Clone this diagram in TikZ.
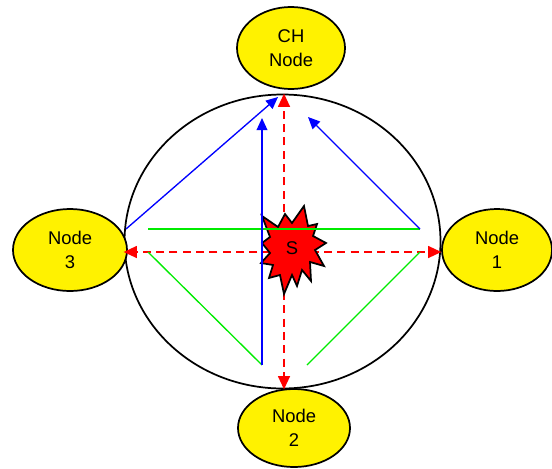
\documentclass[tikz,border=0pt]{standalone}
\usepackage{fontspec}
\setmainfont{Liberation Sans}
\usetikzlibrary{shapes.geometric,arrows.meta}
\definecolor{brightgreen}{RGB}{0,235,0}
\begin{document}
\begin{tikzpicture}[x=0.75pt,y=-0.75pt,
  nodeell/.style={ellipse, draw=black, line width=1.3pt, fill=yellow, inner sep=0pt, align=center,
    font=\fontsize{13.8}{18}\selectfont},
  ringstyle/.style={ellipse, draw=black, line width=1.3pt, inner sep=0pt},
  redarrow/.style={draw=red, line width=1.2pt, dash pattern=on 6pt off 4pt, -{Triangle[length=10pt,width=9pt]}},
  bluearrow/.style={draw=blue, line width=1pt, -{Triangle[length=9pt,width=8pt]}},
  greenline/.style={draw=brightgreen, line width=1pt},
  starstyle/.style={draw=black, fill=red, line width=1.3pt, line join=miter}
]
\useasboundingbox (0,0) rectangle (552,468);

% ring
\node[ringstyle, minimum width=237pt, minimum height=220.5pt] (ring) at (282.5,241.5) {};

% nodes
\node[nodeell, minimum width=81pt, minimum height=61.5pt] (ch) at (291,48) {CH\\Node};
\node[nodeell, minimum width=85.5pt, minimum height=61.5pt] (n3) at (70,250) {Node\\3};
\node[nodeell, minimum width=82.5pt, minimum height=61.5pt] (n1) at (497,250) {Node\\1};
\node[nodeell, minimum width=84pt, minimum height=58.5pt] (n2) at (294,428) {Node\\2};

% red dashed arrows from the source
\coordinate (o) at (284,252);
\draw[redarrow] (o) -- (o |- ring.north);
\draw[redarrow] (o) -- (o |- ring.south);
\draw[redarrow] (o) -- (o -| ring.west);
\draw[redarrow] (o) -- (o -| ring.east);

% star (source)
\draw[starstyle] (262,216) -- (278,227) -- (285,214) -- (292,223) -- (304,206) -- (308,226)
  -- (317,224) -- (313,236) -- (326,243) -- (315,250) -- (324,266) -- (310,262)
  -- (311,281) -- (302,270) -- (297,286) -- (292,275) -- (284,294) -- (280,275)
  -- (269,278) -- (273,265) -- (261,263) -- (270,253) -- (262,243) -- (270,237) -- cycle;
\node[font=\fontsize{13.8}{15}\selectfont, inner sep=0pt] (s) at (292,248) {S};

% coordinates of the routes
\coordinate (g1a) at (148,229);
\coordinate (g1b) at (420,229);
\coordinate (g2a) at (148,252);
\coordinate (g2b) at (262,365);
\coordinate (g3a) at (420,252);
\coordinate (g3b) at (307,365);
\coordinate (b1a) at (126,229);
\coordinate (b1b) at (278,97);
\coordinate (b2b) at (308,117);
\coordinate (b3b) at (262,118);

% green segments
\draw[greenline] (g1a) -- (g1b);
\draw[greenline] (g2a) -- (g2b);
\draw[greenline] (g3a) -- (g3b);

% blue arrows
\draw[bluearrow] (b1a) -- (b1b);
\draw[bluearrow] (g1b) -- (b2b);
\draw[bluearrow] (g2b) -- (b3b);
\end{tikzpicture}
\end{document}
